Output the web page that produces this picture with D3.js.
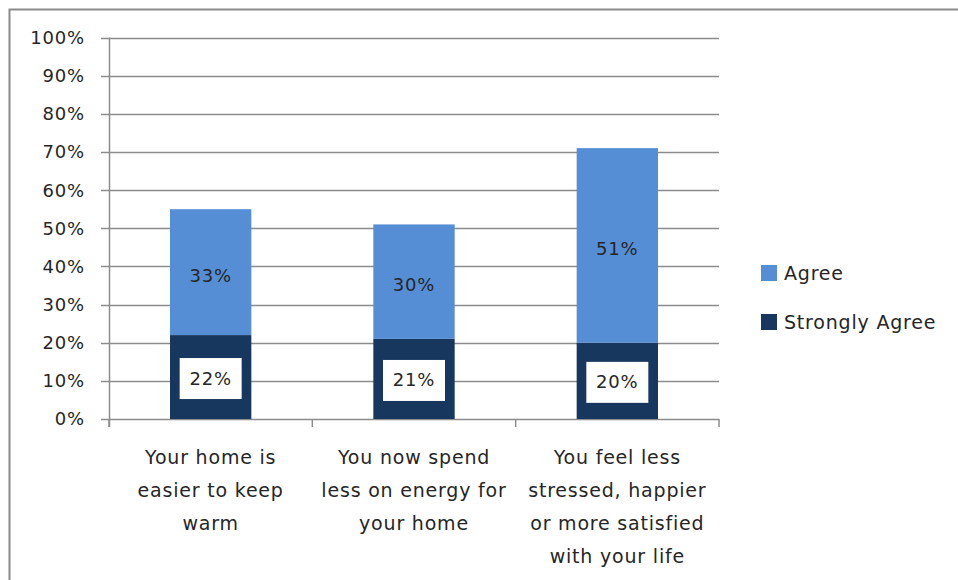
<!DOCTYPE html>
<html><head><meta charset="utf-8">
<script src="https://cdn.jsdelivr.net/npm/d3@7"></script>
<style>body{margin:0;background:#fff}svg{display:block}text{font-family:"DejaVu Sans",sans-serif;letter-spacing:0.8px}</style>
</head><body><svg id="c" width="958" height="580"></svg>
<script>
const categories = [
  ["Your home is", "easier to keep", "warm"],
  ["You now spend", "less on energy for", "your home"],
  ["You feel less", "stressed, happier", "or more satisfied", "with your life"]
];
const strongly = [22, 21, 20];
const agree = [33, 30, 51];
const seriesNames = ["Agree", "Strongly Agree"];
const tickValues = [0,10,20,30,40,50,60,70,80,90,100];

const colAgree = "#558ED5", colStrong = "#17375E", gridCol = "#8c8c8c", txt = "#262626";
const svg = d3.select("#c");
svg.append("rect").attr("x",9.5).attr("y",9.5).attr("width",1100).attr("height",800)
  .attr("fill","none").attr("stroke","#8a8a8a").attr("stroke-width",2);

const pLeft=109, pRight=719, pTop=37.5, pBottom=419;
const x = d3.scaleBand().domain(d3.range(categories.length)).range([pLeft,pRight]).paddingInner(0.6).paddingOuter(0.3);
const y = d3.scaleLinear().domain([0,100]).range([pBottom,pTop]);

// grid
svg.append("g").selectAll("line").data(tickValues).join("line")
  .attr("x1",pLeft-8).attr("x2",pRight).attr("y1",d=>Math.round(y(d))+0.5).attr("y2",d=>Math.round(y(d))+0.5)
  .attr("stroke",gridCol).attr("stroke-width",1.5);
// y axis line
svg.append("line").attr("x1",pLeft+0.5).attr("x2",pLeft+0.5).attr("y1",pTop).attr("y2",pBottom+8)
  .attr("stroke",gridCol).attr("stroke-width",1.5);
// category ticks
const bounds = d3.range(categories.length+1).map(i=>pLeft+(pRight-pLeft)*i/categories.length);
svg.append("g").selectAll("line").data(bounds).join("line")
  .attr("x1",d=>d).attr("x2",d=>d).attr("y1",pBottom).attr("y2",pBottom+8)
  .attr("stroke",gridCol).attr("stroke-width",1.5);
// y tick labels
svg.append("g").selectAll("text").data(tickValues).join("text")
  .attr("x",85).attr("y",d=>y(d)).attr("dy","0.36em").attr("text-anchor","end")
  .attr("font-size",18).attr("fill",txt).text(d=>d+"%");

// bars
const bw = x.bandwidth();
const g = svg.append("g");
g.selectAll(".s").data(strongly).join("rect")
  .attr("x",(d,i)=>x(i)).attr("width",bw).attr("y",d=>y(d)).attr("height",d=>y(0)-y(d)).attr("fill",colStrong);
g.selectAll(".a").data(agree).join("rect")
  .attr("x",(d,i)=>x(i)).attr("width",bw).attr("y",(d,i)=>y(d+strongly[i])).attr("height",(d,i)=>y(strongly[i])-y(d+strongly[i])).attr("fill",colAgree);

// labels
g.selectAll(".al").data(agree).join("text")
  .attr("x",(d,i)=>x(i)+bw/2).attr("y",(d,i)=>(y(d+strongly[i])+y(strongly[i]))/2+3).attr("dy","0.36em")
  .attr("text-anchor","middle").attr("font-size",18).attr("fill",txt).text(d=>d+"%");
g.selectAll(".sb").data(strongly).join("rect")
  .attr("x",(d,i)=>x(i)+bw/2-31).attr("y",d=>(y(d)+y(0))/2-19).attr("width",62).attr("height",41).attr("fill","#fff");
g.selectAll(".sl").data(strongly).join("text")
  .attr("x",(d,i)=>x(i)+bw/2).attr("y",d=>(y(d)+y(0))/2+1).attr("dy","0.36em")
  .attr("text-anchor","middle").attr("font-size",18).attr("fill",txt).text(d=>d+"%");

// category labels
categories.forEach((lines,i)=>{
  const t = svg.append("text").attr("text-anchor","middle").attr("font-size",19).attr("fill",txt);
  lines.forEach((l,j)=>t.append("tspan").attr("x",(bounds[i]+bounds[i+1])/2).attr("y",457+j*33).attr("dy","0.36em").text(l));
});

// legend
const leg = [{n:seriesNames[0],c:colAgree,y:273},{n:seriesNames[1],c:colStrong,y:322}];
leg.forEach(l=>{
  svg.append("rect").attr("x",761).attr("y",l.y-8).attr("width",16).attr("height",16).attr("fill",l.c);
  svg.append("text").attr("x",784).attr("y",l.y).attr("dy","0.36em").attr("font-size",19).attr("fill",txt).text(l.n);
});
</script></body></html>
